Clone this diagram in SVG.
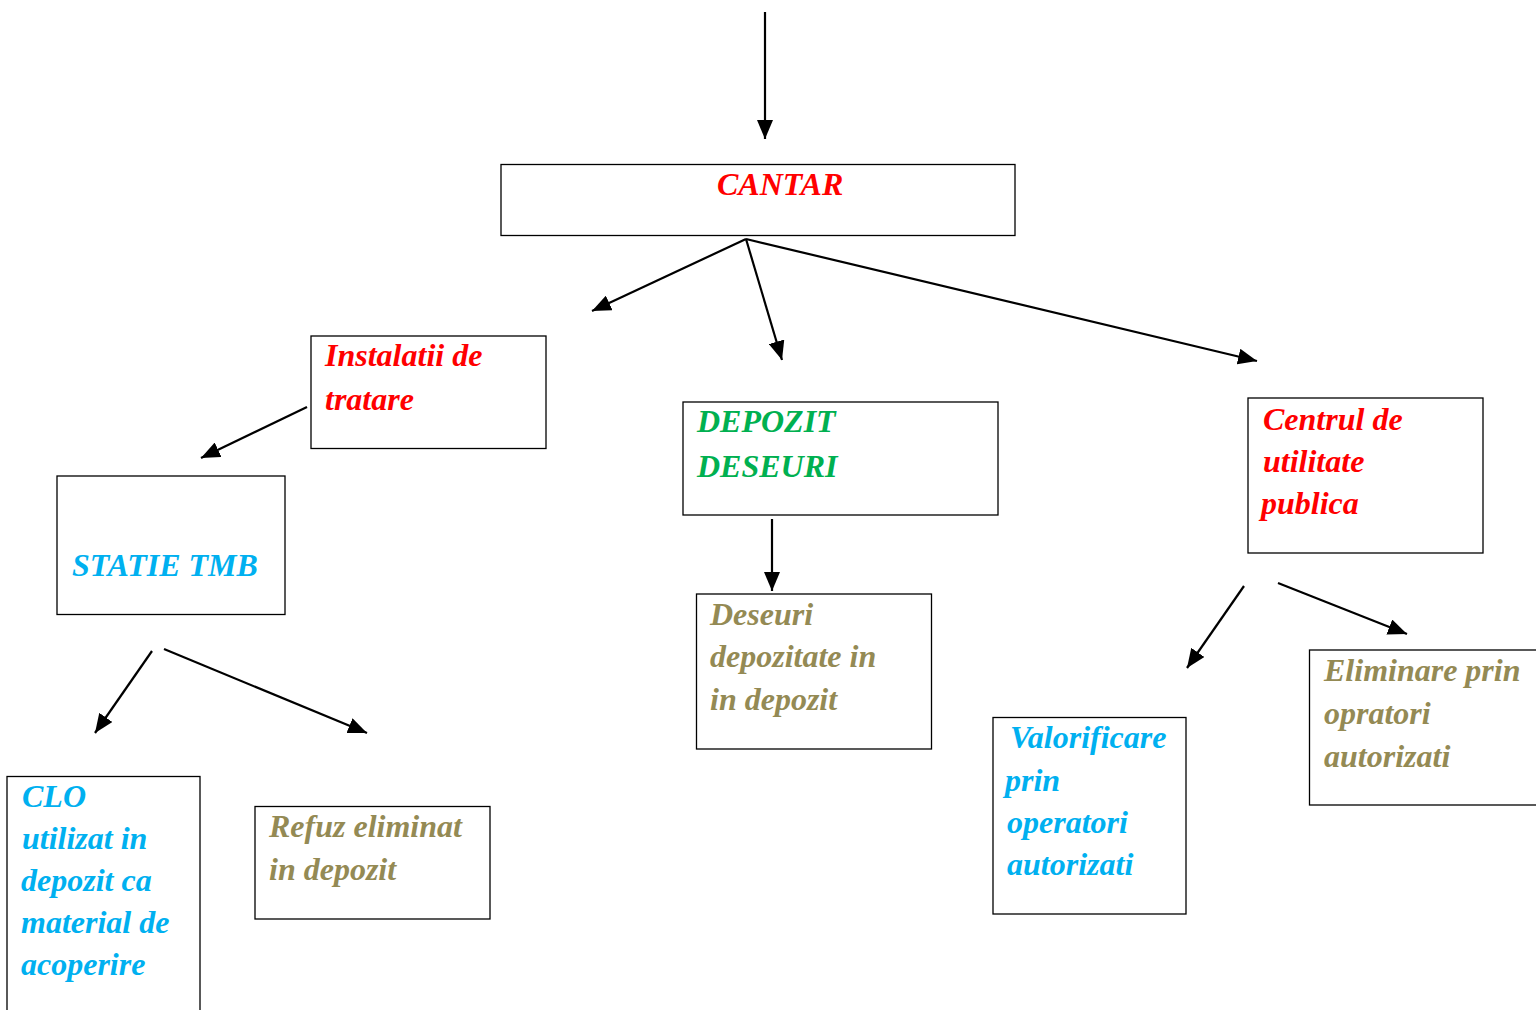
<svg xmlns="http://www.w3.org/2000/svg" width="1536" height="1010" viewBox="0 0 1536 1010">
<defs>
<marker id="ah" markerUnits="userSpaceOnUse" markerWidth="20" markerHeight="16" viewBox="0 0 20 16" refX="19" refY="8" orient="auto">
<path d="M0,0 L19,8 L0,16 Z" fill="#000"/>
</marker>
</defs>
<style>
.box{fill:#fff;stroke:#000;stroke-width:1.3}
.t{font-family:"Liberation Serif","Times New Roman",serif;font-weight:bold;font-style:italic;font-size:32px}
.red{fill:#ff0000}.grn{fill:#00b050}.cyn{fill:#00b0f0}.olv{fill:#948a54}
.c{stroke:#000;stroke-width:2.2;fill:none;marker-end:url(#ah)}
</style>
<rect width="1536" height="1010" fill="#fff"/>
<g id="connectors">
<line class="c" x1="765" y1="12" x2="765" y2="139"/>
<line class="c" x1="746" y1="239" x2="592" y2="311"/>
<line class="c" x1="746" y1="239" x2="782" y2="360"/>
<line class="c" x1="746" y1="239" x2="1257" y2="361"/>
<line class="c" x1="307" y1="407" x2="201" y2="458"/>
<line class="c" x1="152" y1="651" x2="95" y2="733"/>
<line class="c" x1="164" y1="649" x2="367" y2="733"/>
<line class="c" x1="772" y1="519" x2="772" y2="591"/>
<line class="c" x1="1244" y1="586" x2="1187" y2="668"/>
<line class="c" x1="1278" y1="583" x2="1407" y2="634"/>
</g>
<g id="cantar">
<rect class="box" x="501" y="164.5" width="514" height="71"/>
<text class="t red" x="717" y="195">CANTAR</text>
</g>
<g id="instalatii">
<rect class="box" x="311" y="336" width="235" height="112.5"/>
<text class="t red" x="325" y="366">Instalatii de</text>
<text class="t red" x="325" y="410">tratare</text>
</g>
<g id="statie">
<rect class="box" x="57" y="476" width="228" height="138.5"/>
<text class="t cyn" x="72" y="576">STATIE TMB</text>
</g>
<g id="clo">
<rect class="box" x="7" y="776.5" width="193" height="260"/>
<text class="t cyn" x="22" y="807">CLO</text>
<text class="t cyn" x="22" y="849">utilizat in</text>
<text class="t cyn" x="21" y="891">depozit ca</text>
<text class="t cyn" x="21" y="933">material de</text>
<text class="t cyn" x="21" y="975">acoperire</text>
</g>
<g id="refuz">
<rect class="box" x="255" y="806.5" width="235" height="112.5"/>
<text class="t olv" x="269" y="837">Refuz eliminat</text>
<text class="t olv" x="269" y="880">in depozit</text>
</g>
<g id="depozit">
<rect class="box" x="683" y="402" width="315" height="113"/>
<text class="t grn" x="697" y="432">DEPOZIT</text>
<text class="t grn" x="697" y="477">DESEURI</text>
</g>
<g id="deseuri">
<rect class="box" x="696.5" y="594" width="235" height="155"/>
<text class="t olv" x="710" y="625">Deseuri</text>
<text class="t olv" x="710" y="667">depozitate in</text>
<text class="t olv" x="710" y="710">in depozit</text>
</g>
<g id="centrul">
<rect class="box" x="1248" y="398" width="235" height="155"/>
<text class="t red" x="1263" y="430">Centrul de</text>
<text class="t red" x="1263" y="472">utilitate</text>
<text class="t red" x="1261" y="514">publica</text>
</g>
<g id="valorificare">
<rect class="box" x="993" y="717.5" width="193" height="196.5"/>
<text class="t cyn" x="1010" y="748">Valorificare</text>
<text class="t cyn" x="1005" y="791">prin</text>
<text class="t cyn" x="1007" y="833">operatori</text>
<text class="t cyn" x="1007" y="875">autorizati</text>
</g>
<g id="eliminare">
<rect class="box" x="1309.5" y="650" width="240" height="155"/>
<text class="t olv" x="1324" y="681">Eliminare prin</text>
<text class="t olv" x="1324" y="724">opratori</text>
<text class="t olv" x="1324" y="767">autorizati</text>
</g>
</svg>
